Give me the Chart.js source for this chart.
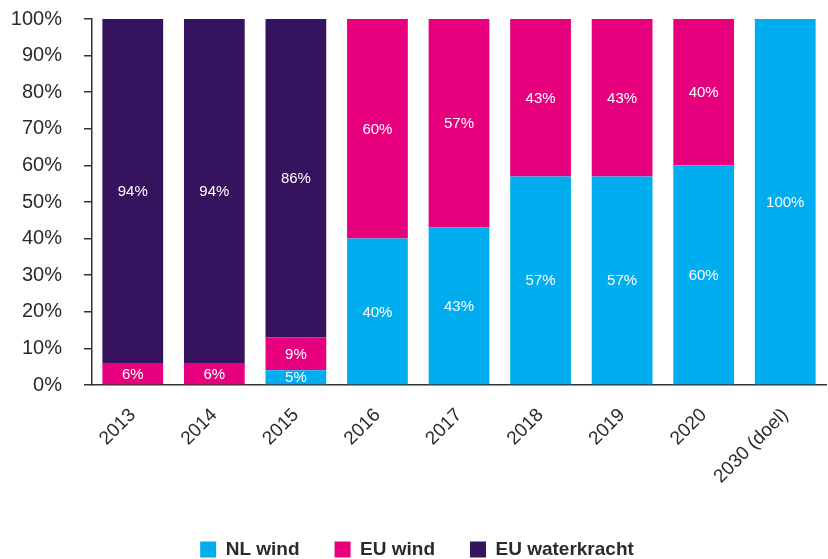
<!DOCTYPE html>
<html>
<head>
<meta charset="utf-8">
<script src="https://cdn.jsdelivr.net/npm/chart.js@4"></script>
<style>
  html, body { margin: 0; padding: 0; background: #fff; }
  #wrap { width: 828px; height: 559px; position: relative; }
</style>
</head>
<body>
<div id="wrap"><canvas id="chart"></canvas></div>
<script>
// Jaren
const years = ['2013', '2014', '2015', '2016', '2017', '2018', '2019', '2020', '2030 (doel)'];

// Aandelen per bron (%)
const nlWind = [0, 0, 4, 40, 43, 57, 57, 60, 100];
const euWind = [6, 6, 9, 60, 57, 43, 43, 40, 0];
const euWaterkracht = [94, 94, 87, 0, 0, 0, 0, 0, 0];

// Teksten in de balken
const nlWindLabels = ['', '', '5%', '40%', '43%', '57%', '57%', '60%', '100%'];
const euWindLabels = ['6%', '6%', '9%', '60%', '57%', '43%', '43%', '40%', ''];
const euWaterLabels = ['94%', '94%', '86%', '', '', '', '', '', ''];

const yTicks = [0, 10, 20, 30, 40, 50, 60, 70, 80, 90, 100];

const textColor = '#2b2b2b';
const fontFamily = "'Liberation Sans', Arial, sans-serif";

// Eenvoudige plugin om percentages in de balken te tekenen
const barLabels = {
    id: 'barLabels',
    afterDatasetsDraw(chart) {
        const ctx = chart.ctx;
        ctx.save();
        ctx.fillStyle = '#ffffff';
        ctx.font = '15px ' + fontFamily;
        ctx.textAlign = 'center';
        ctx.textBaseline = 'middle';
        chart.data.datasets.forEach((ds, i) => {
            const meta = chart.getDatasetMeta(i);
            meta.data.forEach((bar, j) => {
                const txt = ds.valueLabels[j];
                if (!txt) return;
                const mid = (bar.y + bar.base) / 2;
                ctx.fillText(txt, bar.x, mid + 1);
            });
        });
        ctx.restore();
    }
};

const ctx = document.getElementById('chart').getContext('2d');
new Chart(ctx, {
    type: 'bar',
    data: {
        labels: years,
        datasets: [
            { label: 'NL wind', data: nlWind, backgroundColor: '#00aeef', valueLabels: nlWindLabels },
            { label: 'EU wind', data: euWind, backgroundColor: '#e6007e', valueLabels: euWindLabels },
            { label: 'EU waterkracht', data: euWaterkracht, backgroundColor: '#36135e', valueLabels: euWaterLabels }
        ]
    },
    options: {
        responsive: true,
        maintainAspectRatio: false,
        animation: false,
        datasets: {
            bar: { barPercentage: 0.745, categoryPercentage: 1.0 }
        },
        layout: {
            padding: { top: 19, left: 8, right: 2, bottom: -10 }
        },
        scales: {
            x: {
                stacked: true,
                grid: { display: true, drawOnChartArea: false, drawTicks: false },
                border: { display: true, color: '#333', width: 1.5 },
                ticks: {
                    color: textColor,
                    font: { family: fontFamily, size: 19 },
                    maxRotation: 45,
                    minRotation: 45,
                    padding: 19,
                    autoSkip: false
                },
                afterFit(scale) { scale.height = 120; }
            },
            y: {
                stacked: true,
                min: 0,
                max: 100,
                afterBuildTicks(scale) { scale.ticks = yTicks.map(v => ({ value: v })); },
                afterFit(scale) {
                    scale.width = 84;
                    scale.paddingTop = 0;
                    scale.paddingBottom = 0;
                },
                grid: { display: true, drawOnChartArea: false, drawTicks: true, tickLength: 8, color: '#333', lineWidth: 1.5 },
                border: { display: true, color: '#333', width: 1.5 },
                ticks: {
                    color: textColor,
                    font: { family: fontFamily, size: 20 },
                    padding: 22,
                    callback: v => v + '%'
                }
            }
        },
        plugins: {
            legend: {
                position: 'bottom',
                labels: {
                    boxWidth: 16,
                    boxHeight: 16,
                    padding: 35,
                    color: textColor,
                    font: { family: fontFamily, size: 19, weight: 'bold' }
                }
            },
            tooltip: { enabled: false }
        }
    },
    plugins: [barLabels]
});
</script>
</body>
</html>
